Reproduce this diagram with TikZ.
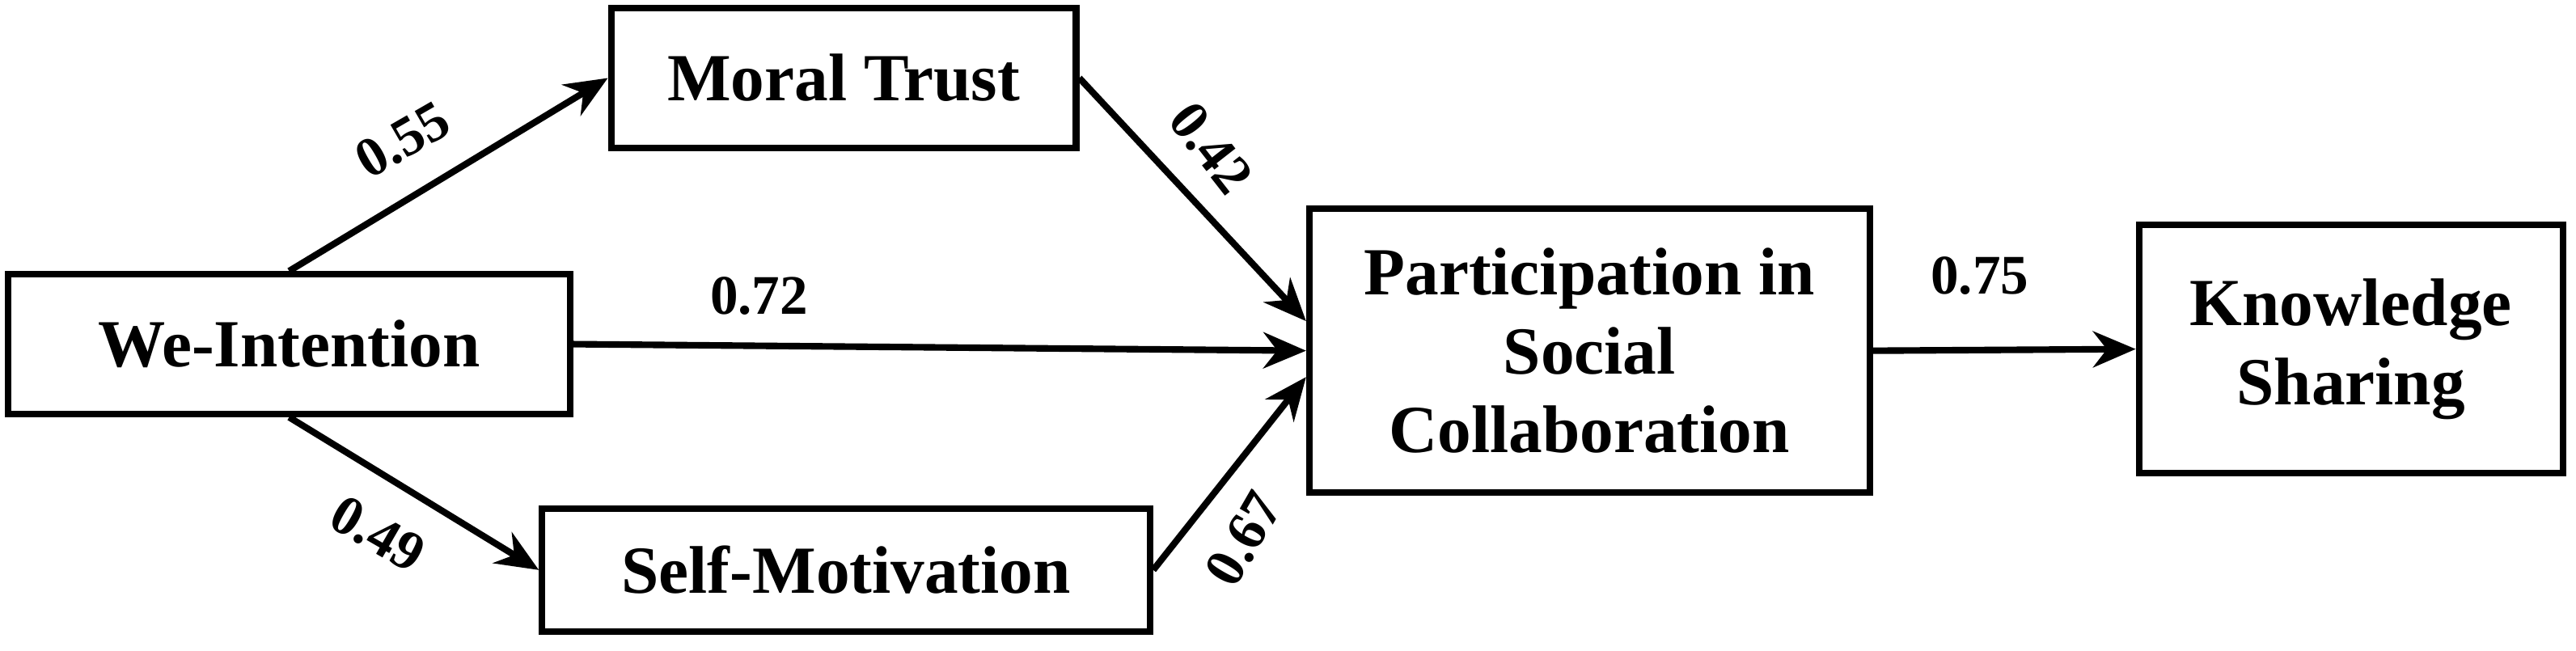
\documentclass[tikz,border=0pt]{standalone}
\usepackage{fontspec}
\setmainfont{Liberation Serif}
\usetikzlibrary{arrows.meta,calc}
\begin{document}
\begin{tikzpicture}[x=1pt,y=-1pt,
 box/.style={draw,line width=4pt,align=center,font=\fontsize{41}{48}\selectfont\bfseries,inner sep=0pt},
 arr/.style={line width=4pt,-{Stealth[length=26pt,width=22pt]}},
 lab/.style={font=\fontsize{34}{38}\selectfont\bfseries}]
\useasboundingbox (0,0) rectangle (1568,396);
\node[box,minimum width=342pt,minimum height=85pt] (we) at (176,209.5) {We-Intention};
\node[box,minimum width=283pt,minimum height=85pt] (mt) at (513.5,47.5) {Moral Trust};
\node[box,minimum width=370pt,minimum height=75pt] (sm) at (515,347) {Self-Motivation};
\node[box,minimum width=341pt,minimum height=173pt] (pa) at (967.5,213.5) {Participation in\\Social\\Collaboration};
\node[box,minimum width=258pt,minimum height=151pt] (ks) at (1431,212.5) {Knowledge\\Sharing};
\draw[arr] (we.north) -- (mt.west);
\draw[arr] (we.south) -- (sm.west);
\draw[arr] (we.east) -- (pa.west);
\draw[arr] (mt.east) -- ($(pa.west)+(0,-18)$);
\draw[arr] (sm.east) -- ($(pa.west)+(0,16)$);
\draw[arr] (pa.east) -- (ks.west);
\node[lab,rotate=30] (l1) at (245,85) {0.55};
\node[lab,rotate=-52] (l2) at (737,90) {0.42};
\node[lab] (l3) at (462,180) {0.72};
\node[lab,rotate=-30] (l4) at (230,325) {0.49};
\node[lab,rotate=60] (l5) at (757,328) {0.67};
\node[lab] (l6) at (1205,168) {0.75};
\end{tikzpicture}
\end{document}
